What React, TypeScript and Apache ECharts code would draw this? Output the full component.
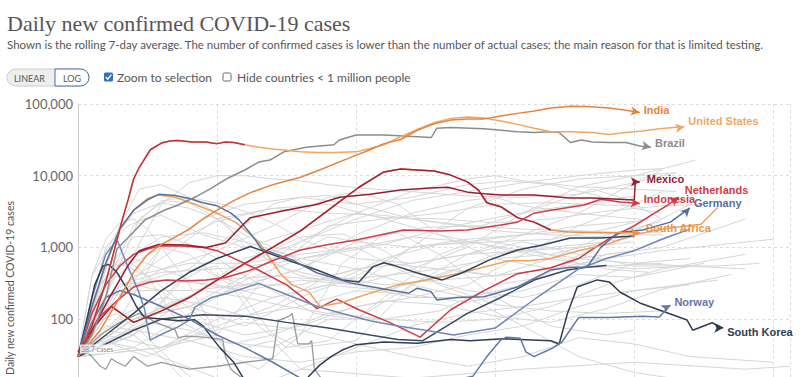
import React, { useEffect, useRef } from "react";
import * as echarts from "echarts";

type P = [number, number];

// axis ticks
const xTickValues = [0, 50, 100, 150, 200, 250];
const yTickValues = [1, 10, 100, 1000, 10000, 100000];

// highlighted countries: [days since 30 daily cases, 7-day average]
const unitedStates: P[] = [[0,30],[5,80],[10,330],[13,900],[16,2500],[18,4600],[20,9000],[22,13000],[26,23000],[30,28500],[33,30500],[36,31000],[41,29500],[46,29500],[50,28000],[53,29500],[56,29000],[60,27000],[65,25000],[70,23500],[74,22800],[80,21500],[86,21000],[92,21000],[100,21500],[105,24000],[110,27000],[116,35000],[122,44000],[128,55000],[134,63000],[140,66000],[146,64000],[152,58000],[158,52000],[164,46000],[170,41000],[177,41000],[185,40000],[191,37500],[197,40000],[203,42000],[209,45000],[214,47000],[218,48000]];
const india: P[] = [[0,30],[8,70],[15,200],[20,450],[25,800],[30,1100],[35,1400],[40,1800],[45,2500],[50,3300],[56,4500],[62,5800],[70,7500],[80,9500],[88,12500],[98,18000],[105,23000],[110,28000],[116,32000],[122,43000],[128,53000],[134,60000],[140,62000],[146,62000],[152,68000],[158,74000],[164,80000],[170,88000],[177,93000],[183,92000],[191,88000],[197,82000],[202,76000]];
const brazil: P[] = [[0,30],[5,60],[10,200],[14,950],[19,1500],[24,2400],[31,3300],[36,3900],[42,5000],[48,6700],[54,9300],[60,12000],[65,15500],[69,16500],[74,21500],[82,25000],[92,27000],[94,31500],[100,37000],[110,37000],[122,35000],[127,34000],[129,46000],[134,47000],[146,45000],[158,41000],[164,40000],[170,41000],[173,40000],[177,29000],[181,31500],[185,29500],[191,29000],[197,29000],[202,26000],[206,25000]];
const mexico: P[] = [[0,35],[5,70],[11,190],[18,560],[22,900],[29,1100],[39,1080],[46,1000],[53,1150],[60,2200],[62,2600],[73,3200],[86,4000],[94,5000],[105,5500],[116,6300],[125,6700],[133,6900],[140,5900],[146,5600],[152,5400],[164,5400],[177,4900],[185,4900],[200,4600],[200.4,8200],[202,8200]];
const indonesia: P[] = [[0,30],[3,50],[8,110],[14,180],[20,280],[26,330],[32,350],[39,340],[46,350],[53,380],[62,480],[70,650],[80,920],[90,1100],[100,1270],[117,1750],[130,1700],[140,1750],[152,2050],[158,2250],[164,3000],[170,3300],[182,3900],[188,4700],[195,4300],[202,4100]];
const netherlands: P[] = [[0,30],[5,120],[10,300],[15,550],[20,800],[25,950],[30,1050],[37,1050],[45,1000],[50,900],[58,650],[65,480],[75,300],[86,140],[93,190],[101,135],[112,90],[123,56],[134,135],[146,250],[158,430],[170,520],[180,700],[186,1000],[192,1400],[200,2000],[206,2800],[212,3900],[216,5000]];
const germany: P[] = [[0,30],[5,150],[10,600],[15,1800],[20,3300],[25,4600],[29,5500],[35,5300],[40,4800],[45,4200],[50,3800],[55,3000],[58,2400],[63,1400],[66,950],[77,670],[86,440],[98,320],[106,280],[112,255],[119,230],[122,270],[127,240],[129,185],[136,200],[146,205],[158,280],[170,485],[177,530],[183,530],[188,1000],[194,1600],[203,1750],[213,2250],[220,3550]];
const southAfrica: P[] = [[0,30],[6,80],[12,150],[20,90],[30,130],[40,200],[50,350],[60,600],[70,1000],[80,1700],[90,3300],[101,6900],[110,11300],[116,12400],[128,11600],[134,10200],[140,8200],[144,6300],[147,4200],[152,3700],[158,2600],[164,2250],[170,1750],[176,1640],[188,1600],[202,1600]];
const norway: P[] = [[0,30],[5,90],[10,200],[15,250],[20,220],[30,150],[40,100],[50,60],[60,40],[70,25],[80,15],[100,10],[120,12],[135,14],[142,16],[147,30],[152,51],[154,56],[159,54],[161,35],[164,30],[167,34],[171,40],[174,48],[180,105],[191,105],[203,110],[209,107],[213,157]];
const southKorea: P[] = [[0,30],[3,90],[6,300],[9,550],[11,580],[14,450],[18,250],[21,150],[24,105],[30,100],[36,95],[42,98],[45,80],[48,56],[51,40],[56,25],[59,16],[63,10],[70,7],[80,10],[83,16],[87,23],[91,30],[95,37],[100,44],[110,48],[122,46],[134,52],[141,50],[153,53],[170,50],[173,45],[176,120],[179.5,280],[186.7,352],[191,330],[195,237],[202,168],[209,134],[219,97],[221,70],[228,89],[232,75]];

// other highlighted (unlabelled) lines
const italy: P[] = [[0,30],[5,150],[10,600],[15,1800],[20,3300],[25,4800],[29,5400],[35,5000],[42,4000],[50,3000],[57,2200],[62,1500],[65,1200],[69,700],[73,420],[77,300],[83,240],[87,150],[95,170],[105,230],[115,300],[125,350],[135,420],[145,520],[155,650],[162,650],[170,700],[180,900],[190,1100],[200,1500],[210,1800],[224,2100],[230,3600]];
const navyA: P[] = [[0,30],[10,60],[20,120],[30,250],[40,450],[50,700],[62,1030],[77,630],[86,485],[95,352],[101,330],[106,535],[110,610],[113,570],[122,440],[131,352],[138,440],[148,670],[158,920],[167,1080],[177,1350],[188,1350],[200,1440]];
const navyV: P[] = [[0,30],[10,45],[20,70],[30,100],[45,115],[60,110],[75,90],[90,75],[105,60],[115,52],[124,50],[140,120],[152,200],[164,350],[176,485],[183,530],[190,560]];
const blueA: P[] = [[0,30],[5,200],[10,800],[14,1290],[18,530],[21.6,255],[24,135],[25,78],[26,51],[28,56],[31,64],[36,78],[40,97],[42,147],[48,200],[54,230],[65,315],[75,220],[86,150],[95,120],[105,95],[115,80],[125,70],[135,60],[150,75],[165,200],[180,500],[190,700],[200,900],[210,1300],[220,1800]];
const grayB: P[] = [[0,30],[3,35],[5,30],[8,22],[10,20],[12,28],[14,25],[17,22],[20,30],[25,22],[30,25],[40,20],[50,22],[60,25],[70,28],[72,95],[76,110],[77,120],[79,45],[83,45],[84,50],[85,20],[88,14]];
const grayC: P[] = [[0,30],[8,60],[15,90],[22,120],[28,90],[35,70],[36,55],[39,58],[45,56],[52,52],[53,30],[55,20],[60,14]];

// background countries
const g01: P[] = [[0,30],[10,150],[20,800],[30,4000],[40,8000],[50,10000],[60,10000],[70,9000],[80,8500],[90,7500],[100,6800],[120,6000],[140,5200],[160,5000],[180,5500],[200,8000],[215,11000]];
const g02: P[] = [[0,30],[15,200],[30,1000],[45,2500],[60,4000],[80,5000],[100,4000],[120,5000],[140,7500],[155,8500],[170,7500],[185,5500],[200,3500],[210,3000]];
const g03: P[] = [[0,30],[20,100],[40,150],[60,400],[80,1200],[100,2500],[120,4500],[140,6000],[160,8000],[180,10000],[200,12000],[210,12500]];
const g04: P[] = [[0,30],[10,300],[20,2000],[30,4500],[40,4200],[50,2500],[60,1200],[70,600],[80,400],[100,300],[120,500],[140,1000],[160,3000],[180,7000],[200,10000],[215,14000],[222,16500]];
const g05: P[] = [[0,30],[8,300],[15,2000],[22,6500],[30,7500],[40,5000],[50,3000],[60,1000],[75,500],[100,300],[120,1000],[140,3500],[160,6500],[180,9000],[200,10000],[215,11000]];
const g06: P[] = [[0,30],[12,300],[22,2500],[32,4700],[42,4800],[52,4000],[62,3000],[72,2000],[82,1200],[100,700],[120,600],[140,800],[160,1500],[180,3000],[200,8000],[210,12000]];
const g07: P[] = [[0,30],[20,100],[40,200],[60,600],[80,1200],[100,3000],[120,6000],[140,9000],[150,10000],[160,8500],[180,7000],[200,6500],[215,6000]];
const g08: P[] = [[0,30],[10,200],[20,300],[30,400],[40,500],[55,1500],[70,4000],[80,5000],[90,5300],[100,4000],[120,2500],[140,2000],[160,1800],[180,1700],[200,1500],[210,1500]];
const g09: P[] = [[0,30],[5,400],[12,1200],[18,2000],[25,2600],[30,2800],[45,1500],[60,1000],[75,1500],[90,2300],[100,3000],[110,2600],[130,2500],[150,2200],[170,2500],[190,3200],[210,3800],[225,4000]];
const g10: P[] = [[0,30],[10,1000],[20,3000],[30,4200],[40,3500],[50,2500],[60,1500],[70,1000],[80,900],[90,1400],[100,1200],[120,1000],[140,1200],[160,1500],[180,1700],[200,1600],[210,1600]];
const g11: P[] = [[0,30],[10,200],[20,250],[40,250],[60,300],[80,500],[100,1500],[120,3000],[140,4500],[150,5000],[160,3800],[180,3000],[200,2500],[205,2400]];
const g12: P[] = [[0,30],[30,40],[50,60],[70,500],[90,2000],[110,2500],[130,3000],[150,4000],[170,4200],[190,3900],[200,3800]];
const g13: P[] = [[0,30],[10,200],[30,700],[50,2500],[70,3500],[90,3000],[110,2800],[130,2200],[150,1700],[170,1500],[190,1400],[200,1400]];
const g14: P[] = [[0,30],[15,300],[30,450],[50,500],[70,600],[90,800],[110,1100],[130,1800],[150,2600],[170,3500],[190,4500],[200,5200]];
const g15: P[] = [[0,30],[8,300],[15,600],[25,400],[35,200],[45,100],[55,30],[65,20],[80,60],[95,600],[110,1500],[125,1900],[145,2000],[165,3500],[185,6500],[195,5000],[210,2500]];
const g16: P[] = [[0,30],[15,200],[30,500],[50,900],[70,2000],[90,5000],[100,6000],[115,4000],[130,1500],[150,700],[170,500],[190,550],[210,600]];
const g17: P[] = [[0,30],[15,100],[30,1000],[50,2300],[70,3500],[90,4000],[110,2500],[130,1500],[150,1000],[170,700],[190,500],[205,450]];
const g18: P[] = [[0,30],[15,300],[30,350],[50,350],[70,400],[90,350],[110,400],[130,500],[150,700],[170,800],[190,1200],[210,2500],[220,4000]];
const g19: P[] = [[0,30],[10,500],[20,1400],[30,1500],[40,1100],[50,700],[60,400],[70,250],[85,120],[100,100],[120,300],[135,500],[150,400],[170,500],[190,1200],[210,3500],[220,5000]];
const g20: P[] = [[0,30],[20,100],[40,200],[60,600],[80,1400],[95,1550],[110,900],[130,300],[150,160],[170,130],[190,120],[210,130]];
const g21: P[] = [[0,30],[10,300],[20,600],[30,1000],[40,800],[50,400],[60,300],[80,300],[100,500],[120,600],[140,800],[160,900],[180,1000],[200,1200]];
const g22: P[] = [[0,30],[20,60],[35,300],[45,500],[55,300],[65,80],[75,40],[90,50],[110,200],[130,800],[145,1300],[160,1000],[180,600],[200,500],[220,550]];
const g23: P[] = [[0,30],[20,100],[40,150],[60,80],[80,200],[100,400],[120,1000],[140,1300],[160,1500],[180,2000],[200,2300]];
const g24: P[] = [[0,30],[15,250],[30,350],[50,300],[70,200],[90,300],[110,700],[130,1100],[150,1200],[170,1300],[190,1800],[205,2500]];
const g25: P[] = [[0,30],[10,200],[20,300],[30,250],[40,100],[60,60],[80,80],[100,150],[120,200],[140,300],[160,800],[180,2000],[200,4000],[210,6000]];
const g26: P[] = [[0,30],[30,40],[50,100],[70,200],[90,300],[110,250],[130,400],[150,800],[170,1000],[190,1200],[200,1400]];
const g27: P[] = [[0,30],[20,100],[40,150],[60,300],[80,500],[100,1200],[115,1600],[130,800],[150,200],[170,80],[190,60],[200,70]];
const g28: P[] = [[0,30],[10,80],[20,70],[40,50],[60,30],[80,25],[100,35],[120,40],[140,60],[160,80],[180,150],[200,250],[220,300]];
const g29: P[] = [[0,30],[8,50],[20,40],[35,25],[50,15],[65,12],[80,20],[100,40],[120,80],[140,120],[160,150],[180,200],[200,250],[230,350]];
const g30: P[] = [[0,30],[15,60],[30,150],[45,250],[60,200],[75,150],[90,120],[110,100],[130,90],[150,100],[170,150],[190,300],[210,500],[240,800]];
const g31: P[] = [[0,30],[8,300],[16,750],[25,400],[35,100],[50,50],[70,40],[90,100],[110,100],[130,130],[150,300],[170,400],[190,800],[210,1000],[240,2500]];
const g32: P[] = [[0,30],[20,400],[40,600],[60,600],[80,800],[100,1000],[120,400],[140,250],[160,200],[180,300],[200,600],[220,700]];
const g33: P[] = [[0,30],[15,600],[30,1400],[45,1600],[60,1200],[75,800],[90,400],[110,300],[130,350],[150,400],[170,700],[190,1500],[210,2300]];
const g34: P[] = [[0,30],[10,400],[20,700],[30,500],[45,300],[60,250],[80,350],[100,300],[120,200],[140,200],[160,300],[180,700],[200,900],[215,1600]];
const g35: P[] = [[0,30],[20,40],[40,120],[60,350],[80,700],[100,1000],[120,1400],[140,1200],[160,900],[180,700],[200,600],[240,500]];
const g36: P[] = [[0,30],[10,60],[30,40],[50,80],[70,150],[90,400],[110,600],[130,500],[150,400],[170,500],[190,700],[210,900],[250,1300]];
const g37: P[] = [[0,30],[5,400],[10,1300],[15,2200],[20,2500],[25,1800],[30,1000],[40,300],[50,60],[60,40],[70,50],[80,20],[120,15],[160,20],[200,25],[240,20],[256,22]];
const g38: P[] = [[0,30],[20,60],[40,200],[60,700],[70,900],[80,700],[100,500],[120,300],[140,200],[160,80],[180,30],[200,18],[230,12],[250,10]];
const g39: P[] = [[0,30],[20,60],[40,450],[50,550],[60,200],[70,60],[80,40],[100,50],[120,300],[140,800],[160,1200],[180,800],[200,550],[230,550],[245,600]];
const g40: P[] = [[0,30],[10,70],[20,60],[30,30],[40,12],[50,6]];
const g41: P[] = [[0,30],[6,90],[14,120],[24,60],[34,25],[44,12],[54,8]];
const g42: P[] = [[0,30],[10,50],[25,90],[40,70],[55,45],[70,60],[90,120],[110,180],[130,160],[150,110],[170,90],[190,140],[210,260],[235,420]];
const g43: P[] = [[0,30],[12,45],[25,30],[40,55],[60,90],[80,70],[100,45],[120,30],[140,22],[160,30],[180,55],[200,45],[220,30],[250,25]];
const g44: P[] = [[0,30],[15,110],[30,200],[45,160],[60,110],[80,150],[100,250],[120,220],[140,170],[160,250],[180,420],[200,380],[225,600]];

const grayLines: P[][] = [g01,g02,g03,g04,g05,g06,g07,g08,g09,g10,g11,g12,g13,g14,g15,g16,g17,g18,g19,g20,g21,g22,g23,g24,g25,g26,g27,g28,g29,g30,g31,g32,g33,g34,g35,g36,g37,g38,g39,g40,g41,g42,g43,g44];

const FONT = "Lato, 'Noto Sans', sans-serif";
const LABEL_FONT = "'Liberation Sans', Arial, sans-serif";

function withArrow(data: P[], rot: number | null) {
  return data.map((p, i) =>
    i === data.length - 1 && rot !== null
      ? { value: p, symbol: "arrow", symbolSize: [7, 9], symbolRotate: rot }
      : { value: p }
  );
}

function colored(name: string, data: P[], color: string, label: string | null, rot: number | null, offset: number[] = [0, 0], width = 1.5) {
  return {
    type: "line",
    name,
    data: withArrow(data, rot),
    symbol: "none",
    showSymbol: true,
    silent: true,
    z: 3,
    lineStyle: { color, width },
    itemStyle: { color },
    endLabel: label
      ? { show: true, formatter: label, color, fontSize: 11, fontWeight: "bold", fontFamily: LABEL_FONT, offset, distance: 4 }
      : { show: false },
  };
}

export default function App() {
  const ref = useRef<HTMLDivElement>(null);
  useEffect(() => {
    document.body.style.margin = "0";
    const chart = echarts.init(ref.current!, undefined, { renderer: "svg" });
    const series: any[] = grayLines.map((d, i) => ({
      type: "line",
      name: "bg" + i,
      data: d,
      symbol: "none",
      silent: true,
      z: 1,
      lineStyle: { color: "#d6d6d6", width: 1 },
    }));
    series.push(
      colored("Gray B", grayB, "#9a9a9a", null, null, [0, 0], 1.3),
      colored("Gray C", grayC, "#9a9a9a", null, null, [0, 0], 1.3),
      colored("Netherlands", netherlands, "#cf3a46", "Netherlands", -55, [2, -7]),
      colored("Italy", italy, "#eba35f", null, null),
      colored("Navy V", navyV, "#3a4a62", null, null),
      colored("Navy A", navyA, "#34445a", null, null),
      colored("Blue A", blueA, "#7088b6", null, null),
      colored("South Korea", southKorea, "#2f3d52", "South Korea", -90, [0, 4]),
      colored("Norway", norway, "#5f78a8", "Norway", -60, [0, -3]),
      colored("Germany", germany, "#56709f", "Germany", -45, [0, -5]),
      colored("South Africa", southAfrica, "#e8944e", "South Africa", -90, [2, -5]),
      colored("South Africa early", southAfrica.filter((p) => p[0] <= 172), "#a3233a", null, null),
      colored("Indonesia", indonesia, "#cf3d48", "Indonesia", -95, [0, -4]),
      colored("Mexico", mexico, "#971c32", "Mexico", -90, [3, -3]),
      colored("Brazil", brazil, "#8c8c8c", "Brazil", -100, [0, -4]),
      colored("United States", unitedStates, "#efa862", "United States", -80, [0, -6]),
      colored("United States early", unitedStates.filter((p) => p[0] <= 60), "#c2313f", null, null),
      colored("India", india, "#e6843f", "India", -100, [0, -3])
    );

    chart.setOption({
      animation: false,
      grid: { left: 78, right: 10, top: 104, height: 358.5 },
      xAxis: {
        type: "value",
        min: xTickValues[0],
        max: 256,
        interval: 50,
        axisLine: { show: false },
        axisTick: { show: false },
        axisLabel: { show: false },
        splitLine: { show: true, lineStyle: { color: "#dddddd", type: [3, 3] } },
      },
      yAxis: {
        type: "log",
        logBase: 10,
        min: yTickValues[0],
        max: yTickValues[yTickValues.length - 1],
        axisLine: { show: true, lineStyle: { color: "#cccccc" } },
        axisTick: { show: false },
        axisLabel: {
          color: "#666666",
          fontSize: 13,
          fontFamily: FONT,
          margin: 5,
          formatter: (v: number) => (v >= 100 ? v.toLocaleString("en-US") : ""),
        },
        splitLine: { show: true, lineStyle: { color: "#dddddd", type: [3, 3] } },
      },
      series,
      graphic: [
        { type: "text", left: 7, top: 12, style: { text: "Daily new confirmed COVID-19 cases", fill: "#555555", font: "22px 'Liberation Serif', serif" } },
        { type: "text", left: 7, top: 38, style: { text: "Shown is the rolling 7-day average. The number of confirmed cases is lower than the number of actual cases; the main reason for that is limited testing.", fill: "#555555", font: "11.5px Lato, sans-serif" } },
        { type: "rect", shape: { x: 7, y: 69, width: 82, height: 17, r: 8.5 }, style: { fill: "#eeeeee", stroke: "#cccccc", lineWidth: 1 } },
        { type: "rect", shape: { x: 55, y: 69, width: 34, height: 17, r: [0, 8.5, 8.5, 0] }, style: { fill: "#ffffff", stroke: "#3d6fa8", lineWidth: 1 } },
        { type: "text", x: 14, y: 78, style: { text: "LINEAR", fill: "#555555", font: "9px Lato, sans-serif", verticalAlign: "middle" } },
        { type: "text", x: 63, y: 78, style: { text: "LOG", fill: "#555555", font: "9px Lato, sans-serif", verticalAlign: "middle" } },
        { type: "rect", shape: { x: 104, y: 72.5, width: 9, height: 9, r: 1.5 }, style: { fill: "#2f6fbf" } },
        { type: "polyline", shape: { points: [[105.8, 77], [107.8, 79.2], [111.3, 74.6]] }, style: { stroke: "#ffffff", lineWidth: 1.4, fill: null } },
        { type: "text", x: 117, y: 77.5, style: { text: "Zoom to selection", fill: "#555555", font: "12px Lato, sans-serif", verticalAlign: "middle" } },
        { type: "rect", shape: { x: 223, y: 73, width: 8, height: 8, r: 1.5 }, style: { fill: "#ffffff", stroke: "#666666", lineWidth: 1 } },
        { type: "text", x: 237, y: 77.5, style: { text: "Hide countries < 1 million people", fill: "#555555", font: "12px Lato, sans-serif", verticalAlign: "middle" } },
        { type: "text", x: 10, y: 288, rotation: Math.PI / 2, style: { text: "Daily new confirmed COVID-19 cases", fill: "#555555", font: "10.5px Lato, sans-serif", align: "center", verticalAlign: "middle" } },
        { type: "text", x: 80, y: 349, z: 10, style: { text: "38.7 cases", fill: "#888888", font: "7px Lato, sans-serif", verticalAlign: "middle", backgroundColor: "rgba(255,255,255,0.8)", padding: [1, 1] } },
      ],
    });
    return () => chart.dispose();
  }, []);
  return (
    <div style={{ width: 800, height: 377, overflow: "hidden", position: "relative" }}>
      <div ref={ref} style={{ width: 800, height: 480 }} />
    </div>
  );
}
